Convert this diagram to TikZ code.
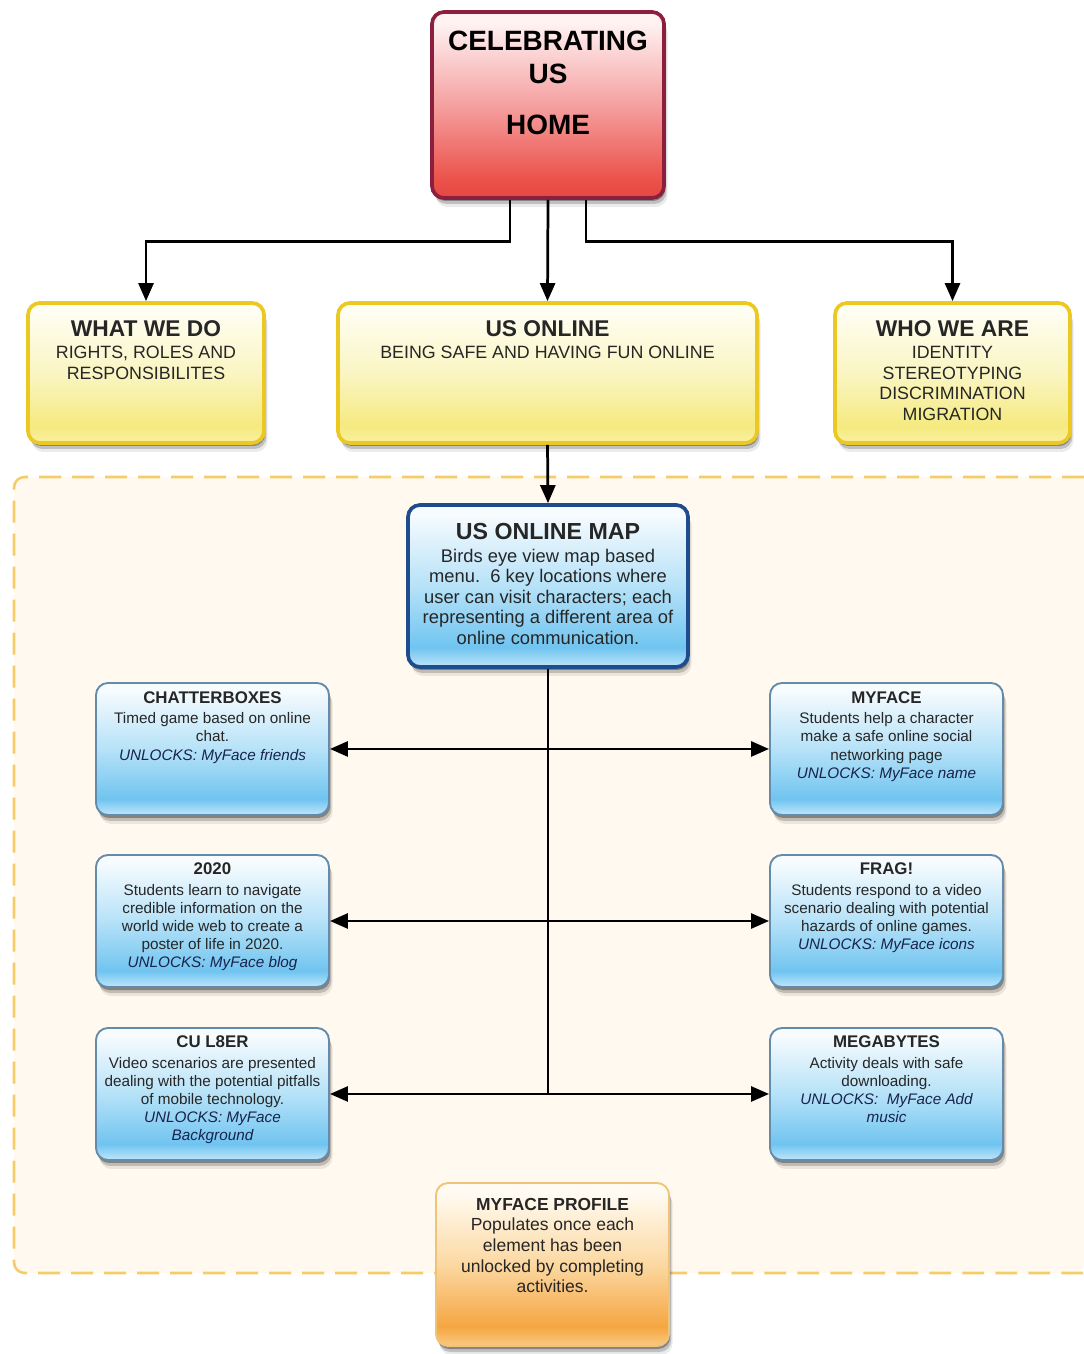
\documentclass[tikz,border=0pt]{standalone}
\usepackage{fontspec}
\setmainfont{Liberation Sans}
\usetikzlibrary{shadows}
\usetikzlibrary{arrows.meta}
\usetikzlibrary{positioning}

% Colours
\definecolor{homeline}{RGB}{140,30,62}
\definecolor{homeA}{RGB}{228,72,64}
\definecolor{homeB}{RGB}{236,82,74}
\definecolor{homeC}{RGB}{245,160,160}
\definecolor{homeD}{RGB}{255,242,242}
\definecolor{topicline}{RGB}{236,200,34}
\definecolor{topicA}{RGB}{250,240,160}
\definecolor{topicB}{RGB}{245,234,128}
\definecolor{topicC}{RGB}{250,245,195}
\definecolor{topicD}{RGB}{255,254,242}
\definecolor{mapline}{RGB}{30,76,140}
\definecolor{gameline}{RGB}{100,140,170}
\definecolor{blueA}{RGB}{192,230,250}
\definecolor{blueB}{RGB}{112,196,240}
\definecolor{blueC}{RGB}{182,226,248}
\definecolor{blueD}{RGB}{246,251,254}
\definecolor{profileline}{RGB}{240,196,120}
\definecolor{profileA}{RGB}{250,202,130}
\definecolor{profileB}{RGB}{245,166,66}
\definecolor{profileC}{RGB}{252,216,162}
\definecolor{profileD}{RGB}{255,251,242}
\definecolor{areafill}{RGB}{255,249,240}
\definecolor{areaedge}{RGB}{246,204,104}
\definecolor{unlock}{RGB}{25,35,75}

\pgfdeclareverticalshading{homeshade}{100bp}{color(0bp)=(homeA); color(25bp)=(homeA); color(30bp)=(homeB); color(50bp)=(homeC); color(72bp)=(homeD); color(100bp)=(homeD)}
\pgfdeclareverticalshading{topicshade}{100bp}{color(0bp)=(topicA); color(25bp)=(topicA); color(31bp)=(topicB); color(50bp)=(topicC); color(72bp)=(topicD); color(100bp)=(topicD)}
\pgfdeclareverticalshading{blueshade}{100bp}{color(0bp)=(blueA); color(25bp)=(blueA); color(31bp)=(blueB); color(50bp)=(blueC); color(72bp)=(blueD); color(100bp)=(blueD)}
\pgfdeclareverticalshading{profileshade}{100bp}{color(0bp)=(profileA); color(25bp)=(profileA); color(31bp)=(profileB); color(50bp)=(profileC); color(72bp)=(profileD); color(100bp)=(profileD)}

\tikzset{
    boxshadow/.style={drop shadow={shadow xshift=0.04cm, shadow yshift=-0.1cm, opacity=0.3, fill=black},
                      drop shadow={shadow xshift=0.08cm, shadow yshift=-0.2cm, opacity=0.18, fill=black},
                      drop shadow={shadow xshift=0.12cm, shadow yshift=-0.3cm, opacity=0.08, fill=black}},
    basebox/.style={rectangle, rounded corners=0.4cm, boxshadow, inner sep=0pt},
    homebox/.style={basebox, draw=homeline, line width=3.5pt, shading=homeshade, minimum width=7.733cm, minimum height=6.2cm},
    topicbox/.style={basebox, draw=topicline, line width=3.5pt, shading=topicshade, minimum height=4.667cm},
    mapbox/.style={basebox, draw=mapline, line width=3.5pt, shading=blueshade, minimum width=9.333cm, minimum height=5.4cm},
    gamebox/.style={basebox, draw=gameline, line width=1.8pt, shading=blueshade, minimum width=7.767cm, minimum height=4.4cm},
    profilebox/.style={basebox, draw=profileline, line width=1.8pt, shading=profileshade, minimum width=7.767cm, minimum height=5.433cm},
    boxtext/.style={inner sep=0pt, align=center, text=black!85},
    topictext/.style={boxtext, font=\fontsize{16.9}{19.6}\selectfont},
    gametext/.style={boxtext, font=\fontsize{14.5}{17.2}\selectfont},
    link/.style={line width=2.6pt, -{Triangle[length=0.6cm, width=0.5cm]}},
    spine/.style={line width=2.6pt}
}

\begin{document}
\begin{tikzpicture}

    % Page
    \fill[white] (0cm,0cm) rectangle (36.133cm,45.133cm);
    \useasboundingbox (0cm,0cm) rectangle (36.133cm,45.133cm);

    % Map area
    \fill[areafill, rounded corners=0.35cm] (36.133cm,29.233cm) -- (0.467cm,29.233cm) -- (0.467cm,2.7cm) -- (36.133cm,2.7cm) [sharp corners] -- cycle;
    \draw[areaedge, line width=2.4pt, dash pattern=on 0.73cm off 0.37cm, rounded corners=0.35cm] (36.133cm,29.233cm) -- (0.467cm,29.233cm) -- (0.467cm,2.7cm) -- (36.133cm,2.7cm);

    % Home
    \node[homebox] (home) at (18.267cm, 41.633cm) {};
    \node[boxtext, text=black, font=\bfseries\fontsize{26.5}{31.3}\selectfont, below=0.7cm of home.north] (hometext) {CELEBRATING\\US\\[17pt]HOME};

    % Topics
    \node[topicbox, minimum width=7.867cm] (what) at (4.867cm, 32.7cm) {};
    \node[topicbox, minimum width=13.967cm] (online) at (18.25cm, 32.7cm) {};
    \node[topicbox, minimum width=7.833cm] (who) at (31.75cm, 32.7cm) {};

    \node[topictext, below=0.633cm of what.north] (whattext) {{\bfseries\fontsize{21.6}{20}\selectfont WHAT WE DO}\\[1.5pt]RIGHTS, ROLES AND\\RESPONSIBILITES};
    \node[topictext, below=0.633cm of online.north] (onlinetext) {{\bfseries\fontsize{21.6}{20}\selectfont US ONLINE}\\[1.5pt]BEING SAFE AND HAVING FUN ONLINE};
    \node[topictext, below=0.633cm of who.north] (whotext) {{\bfseries\fontsize{21.6}{20}\selectfont WHO WE ARE}\\[1.5pt]IDENTITY\\STEREOTYPING\\DISCRIMINATION\\MIGRATION};

    % Map
    \node[mapbox] (map) at (18.267cm, 25.6cm) {};
    \node[boxtext, font=\fontsize{17.4}{19.4}\selectfont, below=0.67cm of map.north] (maptext) {{\bfseries\fontsize{22}{20}\selectfont US ONLINE MAP}\\[2pt]Birds eye view map based\\menu.\ \ 6 key locations where\\user can visit characters; each\\representing a different area of\\online communication.};

    % Games
    \node[gamebox] (chat) at (7.083cm, 20.167cm) {};
    \node[gamebox] (myface) at (29.55cm, 20.167cm) {};
    \node[gamebox] (twenty) at (7.083cm, 14.433cm) {};
    \node[gamebox] (frag) at (29.55cm, 14.433cm) {};
    \node[gamebox] (culater) at (7.083cm, 8.667cm) {};
    \node[gamebox] (mega) at (29.55cm, 8.667cm) {};

    \node[gametext, below=0.3cm of chat.north] (chattext) {{\bfseries\fontsize{16}{16}\selectfont CHATTERBOXES}\\[2.5pt]Timed game based on online\\chat.\\{\itshape\color{unlock}UNLOCKS: MyFace friends}};
    \node[gametext, below=0.3cm of myface.north] (myfacetext) {{\bfseries\fontsize{16}{16}\selectfont MYFACE}\\[2.5pt]Students help a character\\make a safe online social\\networking page\\{\itshape\color{unlock}UNLOCKS: MyFace name}};
    \node[gametext, below=0.28cm of twenty.north] (twentytext) {{\bfseries\fontsize{16}{16}\selectfont 2020}\\[2.5pt]Students learn to navigate\\credible information on the\\world wide web to create a\\poster of life in 2020.\\{\itshape\color{unlock}UNLOCKS: MyFace blog}};
    \node[gametext, below=0.28cm of frag.north] (fragtext) {{\bfseries\fontsize{16}{16}\selectfont FRAG!}\\[2.5pt]Students respond to a video\\scenario dealing with potential\\hazards of online games.\\{\itshape\color{unlock}UNLOCKS: MyFace icons}};
    \node[gametext, below=0.28cm of culater.north] (culatertext) {{\bfseries\fontsize{16}{16}\selectfont CU L8ER}\\[2.5pt]Video scenarios are presented\\dealing with the potential pitfalls\\of mobile technology.\\{\itshape\color{unlock}UNLOCKS: MyFace}\\{\itshape\color{unlock}Background}};
    \node[gametext, below=0.28cm of mega.north] (megatext) {{\bfseries\fontsize{16}{16}\selectfont MEGABYTES}\\[2.5pt]Activity deals with safe\\downloading.\\{\itshape\color{unlock}UNLOCKS:\ \ MyFace Add}\\{\itshape\color{unlock}music}};

    % Profile
    \node[profilebox] (profile) at (18.417cm, 2.983cm) {};
    \node[boxtext, font=\fontsize{16.6}{19.6}\selectfont, below=0.52cm of profile.north] (profiletext) {{\bfseries\fontsize{16.5}{19}\selectfont MYFACE PROFILE}\\Populates once each\\element has been\\unlocked by completing\\activities.};

    % Links
    \draw[link] ([xshift=-1.267cm]home.south) -- ++(0,-1.4cm) -| (what.north);
    \draw[link] (home.south) -- (online.north);
    \draw[link] ([xshift=1.267cm]home.south) -- ++(0,-1.4cm) -| (who.north);
    \draw[link] (online.south) -- (map.north);

    \draw[spine] (map.south) -- (map.south |- culater.east);
    \draw[link] (map.south |- chat.east) -- (chat.east);
    \draw[link] (map.south |- myface.west) -- (myface.west);
    \draw[link] (map.south |- twenty.east) -- (twenty.east);
    \draw[link] (map.south |- frag.west) -- (frag.west);
    \draw[link] (map.south |- culater.east) -- (culater.east);
    \draw[link] (map.south |- mega.west) -- (mega.west);

\end{tikzpicture}
\end{document}
